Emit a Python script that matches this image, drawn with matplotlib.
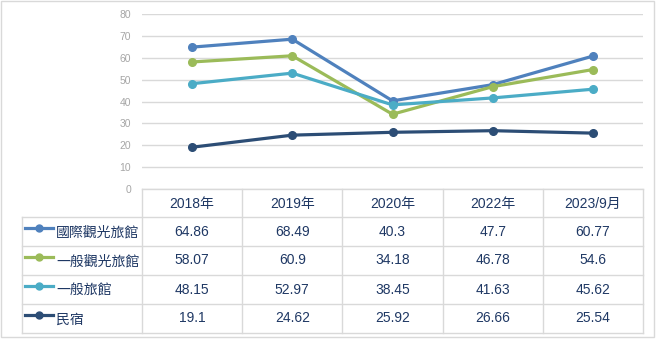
import matplotlib.pyplot as plt

plt.rcParams['font.family'] = ['Liberation Sans', 'Noto Sans CJK TC']

# 資料
years = ["2018年", "2019年", "2020年", "2022年", "2023/9月"]
names = ["國際觀光旅館", "一般觀光旅館", "一般旅館", "民宿"]
intl_hotel = [64.86, 68.49, 40.3, 47.7, 60.77]
tourist_hotel = [58.07, 60.9, 34.18, 46.78, 54.6]
general_hotel = [48.15, 52.97, 38.45, 41.63, 45.62]
homestay = [19.1, 24.62, 25.92, 26.66, 25.54]
series = [intl_hotel, tourist_hotel, general_hotel, homestay]
colors = ["#4F81BD", "#9BBB59", "#4BACC6", "#2C4D75"]
yticks = [0, 10, 20, 30, 40, 50, 60, 70, 80]

W, H = 659, 340
txt_color = "#1F3864"
grid_color = "#D9D9D9"

fig = plt.figure(figsize=(W / 100, H / 100), dpi=100)

# 圖表區 (像素)
px0, px1 = 142, 643
py_top, py_bot = 14, 189
ax = fig.add_axes([px0 / W, (H - py_bot) / H, (px1 - px0) / W, (py_bot - py_top) / H])
x = range(len(years))
for vals, c in zip(series, colors):
    ax.plot(x, vals, color=c, lw=2.3, marker="o", ms=5.5, solid_capstyle="round")
ax.set_xlim(-0.5, len(years) - 0.5)
ax.set_ylim(0, 80)
ax.set_yticks(yticks)
ax.set_xticks([])
ax.grid(axis="y", color=grid_color, lw=1)
ax.set_axisbelow(True)
for s in ax.spines.values():
    s.set_visible(False)
ax.tick_params(axis="y", length=0, pad=8, labelsize=7.5, labelcolor="#A6A6A6")

# 表格 (整張圖的像素座標)
tab = fig.add_axes([0, 0, 1, 1], facecolor="none")
tab.set_xlim(0, W)
tab.set_ylim(H, 0)
tab.axis("off")

# 外框
tab.add_patch(plt.Rectangle((1, 1), W - 6, H - 4, fill=False, ec=grid_color, lw=1))

col_w = (px1 - px0) / len(years)
row_y = [189, 217, 246, 275, 304, 333]
tx0 = 22

# 橫線
tab.plot([px0, px1], [row_y[0], row_y[0]], color=grid_color, lw=1)
for yy in row_y[1:]:
    tab.plot([tx0, px1], [yy, yy], color=grid_color, lw=1)
# 直線
tab.plot([tx0, tx0], [row_y[1], row_y[-1]], color=grid_color, lw=1)
for i in range(len(years) + 1):
    xx = px0 + i * col_w
    tab.plot([xx, xx], [row_y[0], row_y[-1]], color=grid_color, lw=1)

# 表頭
for i, yr in enumerate(years):
    tab.text(px0 + (i + 0.5) * col_w, (row_y[0] + row_y[1]) / 2 + 1, yr,
             ha="center", va="center", fontsize=10, color=txt_color)

# 各列
for r, (nm, vals, c) in enumerate(zip(names, series, colors)):
    yc = (row_y[r + 1] + row_y[r + 2]) / 2
    tab.plot([25, 53], [yc - 4, yc - 4], color=c, lw=2.3)
    tab.plot([39], [yc - 4], color=c, marker="o", ms=5)
    tab.text(56, yc + 1, nm, ha="left", va="center", fontsize=10, color=txt_color)
    for i, v in enumerate(vals):
        tab.text(px0 + (i + 0.5) * col_w, yc, f"{v:g}", ha="center", va="center",
                 fontsize=10, color=txt_color)

fig.savefig("out.png", dpi=100)
